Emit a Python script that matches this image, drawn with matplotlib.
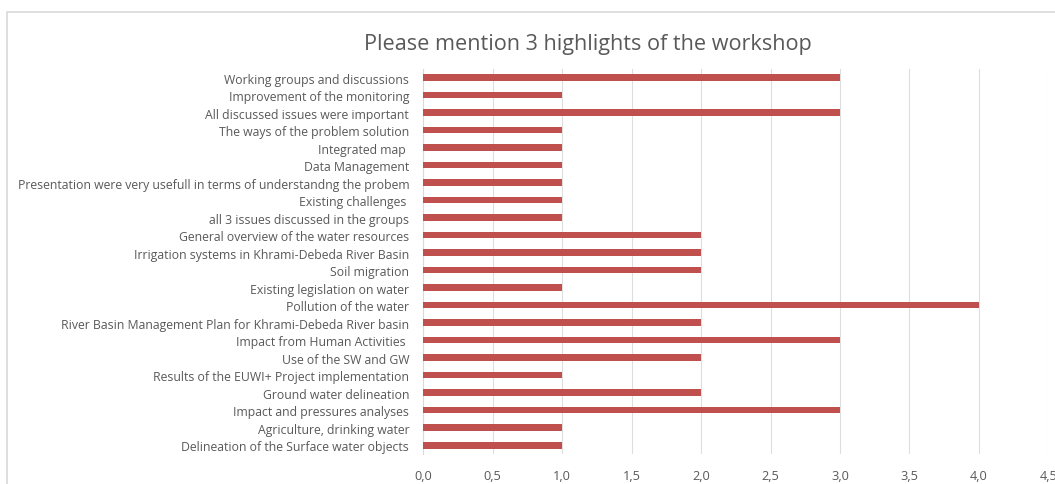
import matplotlib.pyplot as plt
from matplotlib.patches import Rectangle
from matplotlib.ticker import FuncFormatter

categories = [
    "Working groups and discussions",
    "Improvement of the monitoring",
    "All discussed issues were important",
    "The ways of the problem solution",
    "Integrated map ",
    "Data Management",
    "Presentation were very usefull in terms of understandng the probem",
    "Existing challenges ",
    "all 3 issues discussed in the groups",
    "General overview of the water resources",
    "Irrigation systems in Khrami-Debeda River Basin",
    "Soil migration",
    "Existing legislation on water",
    "Pollution of the water",
    "River Basin Management Plan for Khrami-Debeda River basin",
    "Impact from Human Activities ",
    "Use of the SW and GW",
    "Results of the EUWI+ Project implementation",
    "Ground water delineation",
    "Impact and pressures analyses",
    "Agriculture, drinking water",
    "Delineation of the Surface water objects",
]
values = [3, 1, 3, 1, 1, 1, 1, 1, 1, 2, 2, 2, 1, 4, 2, 3, 2, 1, 2, 3, 1, 1]
xticks = [0, 0.5, 1, 1.5, 2, 2.5, 3, 3.5, 4, 4.5]

plt.rcParams['font.family'] = ['Open Sans', 'DejaVu Sans']
text_col = '#595959'

fig = plt.figure(figsize=(10.55, 4.85), dpi=100)
ax = fig.add_axes([0.401, 0.062, 0.5928, 0.794])

# outer chart frame (cropped on the right/bottom in the reference)
fig.patches.append(Rectangle((7 / 1055, -0.1), 1.2, 1 - 13 / 485 + 0.1,
                             transform=fig.transFigure, fill=False,
                             edgecolor='#D9D9D9', linewidth=1.2))

y = list(range(len(categories)))[::-1]
ax.barh(y, values, height=0.38, color='#C0504D', zorder=3)

ax.set_xlim(0, 4.5)
ax.set_ylim(-0.5, len(categories) - 0.5)
ax.set_xticks(xticks)
ax.xaxis.set_major_formatter(FuncFormatter(lambda v, p: f"{v:.1f}".replace('.', ',')))
ax.set_yticks(y)
ax.set_yticklabels(categories)
ax.grid(axis='x', color='#DEDEDE', linewidth=0.8, zorder=0)
for s in ['top', 'right', 'bottom']:
    ax.spines[s].set_visible(False)
ax.spines['left'].set_color('#D9D9D9')
ax.spines['left'].set_linewidth(0.8)
ax.tick_params(axis='both', length=0, colors=text_col)
ax.tick_params(axis='y', labelsize=8.8, pad=10)
ax.tick_params(axis='x', labelsize=9.2, pad=11)

fig.text(0.557, 0.909, "Please mention 3 highlights of the workshop",
         ha='center', va='center', fontsize=15.6, color=text_col)

fig.savefig('out.png', dpi=100)
